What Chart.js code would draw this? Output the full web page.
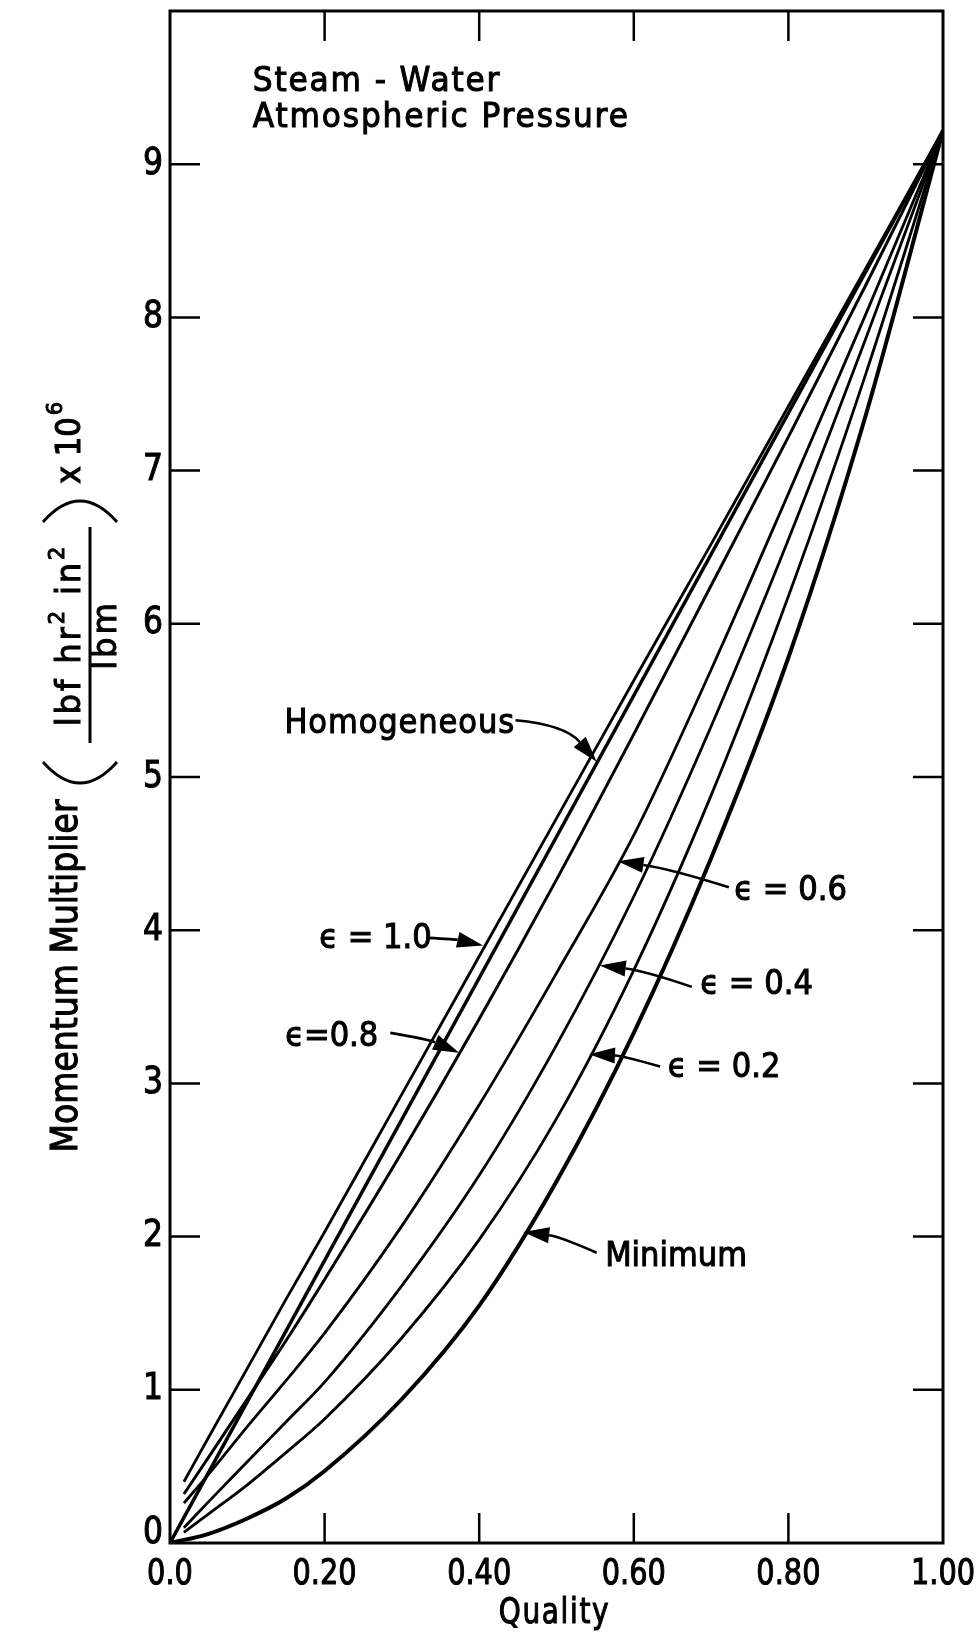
<!DOCTYPE html>
<html>
<head>
<meta charset="utf-8">
<script src="https://cdn.jsdelivr.net/npm/chart.js@4.4.1/dist/chart.umd.min.js"></script>
<style>
  html, body { margin: 0; padding: 0; background: #fff; }
  #wrap { width: 977px; height: 1637px; }
</style>
</head>
<body>
<div id="wrap"><canvas id="chart" width="977" height="1637"></canvas></div>
<script>
// values
const qualityEps = [0.018, 0.05, 0.1, 0.15, 0.2, 0.3, 0.4, 0.5, 0.6, 0.7, 0.8, 0.9, 1.0];
const eps10 = [0.40, 0.69, 1.14, 1.59, 2.03, 2.93, 3.83, 4.73, 5.63, 6.52, 7.42, 8.32, 9.22];
const eps08 = [0.32, 0.56, 0.94, 1.32, 1.72, 2.55, 3.42, 4.33, 5.28, 6.25, 7.22, 8.21, 9.22];
const eps06 = [0.26, 0.45, 0.76, 1.06, 1.37, 2.07, 2.86, 3.72, 4.62, 5.70, 6.85, 8.02, 9.22];
const eps04 = [0.10, 0.27, 0.53, 0.79, 1.05, 1.68, 2.40, 3.25, 4.22, 5.33, 6.55, 7.86, 9.22];
const eps02 = [0.07, 0.19, 0.38, 0.59, 0.81, 1.34, 1.98, 2.77, 3.74, 4.88, 6.18, 7.63, 9.22];
const qualityMin = [0, 0.05, 0.1, 0.15, 0.2, 0.3, 0.4, 0.5, 0.6, 0.7, 0.8, 0.9, 1.0];
const minimum = [0, 0.06, 0.16, 0.29, 0.47, 0.94, 1.55, 2.36, 3.33, 4.47, 5.78, 7.36, 9.22];
const qualityHom = [0, 1.0];
const homogeneous = [0.0, 9.22];

const xTickValues = [0, 0.2, 0.4, 0.6, 0.8, 1.0];
const xTickLabels = ['0.0', '0.20', '0.40', '0.60', '0.80', '1.00'];
const yTickValues = [0, 1, 2, 3, 4, 5, 6, 7, 8, 9];
const yTickLabels = ['0', '1', '2', '3', '4', '5', '6', '7', '8', '9'];

// labels with arrows, placed in data units
const notes = [
    { text: 'Homogeneous', x: 0.148, y: 5.29, from: [0.447, 5.37], ctrl: [0.511, 5.34], tip: [0.552, 5.10], spacing: 1 },
    { text: 'ϵ = 1.0', x: 0.193, y: 3.885, from: [0.333, 3.95], ctrl: [0.37, 3.94], tip: [0.405, 3.90] },
    { text: 'ϵ=0.8', x: 0.149, y: 3.245, from: [0.285, 3.33], ctrl: [0.333, 3.29], tip: [0.374, 3.20] },
    { text: 'ϵ = 0.6', x: 0.730, y: 4.20, from: [0.723, 4.28], ctrl: [0.648, 4.40], tip: [0.579, 4.45] },
    { text: 'ϵ = 0.4', x: 0.686, y: 3.585, from: [0.675, 3.63], ctrl: [0.614, 3.735], tip: [0.556, 3.77] },
    { text: 'ϵ = 0.2', x: 0.644, y: 3.04, from: [0.634, 3.11], ctrl: [0.586, 3.18], tip: [0.542, 3.19] },
    { text: 'Minimum', x: 0.563, y: 1.81, from: [0.552, 1.895], ctrl: [0.504, 2.0], tip: [0.457, 2.03] }
];

const FONT = '"DejaVu Sans", sans-serif';

function pts(xs, ys) {
    return xs.map((x, i) => ({ x: x, y: ys[i] }));
}

function line(data, width) {
    return { data: data, borderColor: '#000', borderWidth: width, pointRadius: 0, fill: false, cubicInterpolationMode: 'monotone' };
}

// condensed, slightly heavier lettering
function txt(ctx, str, x, y, o) {
    ctx.save();
    ctx.translate(x, y);
    ctx.scale(o.sx || 1, 1);
    ctx.font = o.size + 'px ' + FONT;
    ctx.letterSpacing = (o.spacing || 0) + 'px';
    ctx.textAlign = o.align || 'left';
    ctx.textBaseline = o.base || 'alphabetic';
    ctx.lineWidth = o.stroke == null ? 1.1 : o.stroke;
    ctx.fillText(str, 0, 0);
    ctx.strokeText(str, 0, 0);
    ctx.restore();
}

function tw(ctx, str, size, spacing, sx) {
    ctx.save();
    ctx.font = size + 'px ' + FONT;
    ctx.letterSpacing = (spacing || 0) + 'px';
    const w = ctx.measureText(str).width * (sx || 1);
    ctx.restore();
    return w;
}

function arrow(ctx, p0, c, p1) {
    const ang = Math.atan2(p1[1] - c[1], p1[0] - c[0]);
    const len = 26, half = 8;
    const bx = p1[0] - len * Math.cos(ang), by = p1[1] - len * Math.sin(ang);
    ctx.beginPath();
    ctx.moveTo(p0[0], p0[1]);
    ctx.quadraticCurveTo(c[0], c[1], bx, by);
    ctx.stroke();
    ctx.beginPath();
    ctx.moveTo(p1[0], p1[1]);
    ctx.lineTo(bx + half * Math.sin(ang), by - half * Math.cos(ang));
    ctx.lineTo(bx - half * Math.sin(ang), by + half * Math.cos(ang));
    ctx.closePath();
    ctx.fill();
}

const framePlugin = {
    id: 'frame',
    beforeDraw(chart) {
        const ctx = chart.ctx;
        ctx.save();
        ctx.fillStyle = '#fff';
        ctx.fillRect(0, 0, chart.width, chart.height);
        ctx.restore();
    },
    afterDatasetsDraw(chart) {
        const ctx = chart.ctx;
        const a = chart.chartArea;
        const xs = chart.scales.x, ys = chart.scales.y;
        const px = v => xs.getPixelForValue(v);
        const py = v => ys.getPixelForValue(v);
        ctx.save();
        ctx.strokeStyle = '#000';
        ctx.fillStyle = '#000';

        // box
        ctx.lineWidth = 3;
        ctx.strokeRect(a.left, a.top, a.right - a.left, a.bottom - a.top);

        // inward ticks on all four sides
        ctx.lineWidth = 2.5;
        const tl = 30;
        ctx.beginPath();
        xTickValues.slice(1, -1).forEach(v => {
            ctx.moveTo(px(v), a.bottom); ctx.lineTo(px(v), a.bottom - tl);
            ctx.moveTo(px(v), a.top); ctx.lineTo(px(v), a.top + tl);
        });
        yTickValues.slice(1).forEach(v => {
            ctx.moveTo(a.left, py(v)); ctx.lineTo(a.left + tl, py(v));
            ctx.moveTo(a.right, py(v)); ctx.lineTo(a.right - tl, py(v));
        });
        ctx.stroke();

        // tick labels
        xTickValues.forEach((v, i) => txt(ctx, xTickLabels[i], px(v), a.bottom + 41, { size: 36, sx: 0.8, align: 'center' }));
        yTickValues.forEach((v, i) => txt(ctx, yTickLabels[i], a.left - 7, py(v) - (v === 0 ? 10 : 0),
            { size: 37, sx: 0.85, align: 'right', base: 'middle' }));

        // x title
        txt(ctx, 'Quality', (a.left + a.right) / 2 - 2, 1623, { size: 35, sx: 0.8, align: 'center', spacing: 2 });

        // y title, rotated: (-Y, X) puts text at screen row Y with baseline at screen column X
        ctx.save();
        ctx.rotate(-Math.PI / 2);
        txt(ctx, 'Momentum Multiplier', -976, 77, { size: 38, sx: 0.87, align: 'center' });
        const parts = [['lbf hr', 0], ['2', 1], [' in', 0], ['2', 1]];
        const nsx = 0.95;
        let total = 0;
        parts.forEach(p => { total += tw(ctx, p[0], p[1] ? 22 : 34, 3, nsx); });
        let u = -635 - total / 2;
        parts.forEach(p => {
            txt(ctx, p[0], u, p[1] ? 64 : 80, { size: p[1] ? 22 : 34, sx: nsx, spacing: 3 });
            u += tw(ctx, p[0], p[1] ? 22 : 34, 3, nsx);
        });
        txt(ctx, 'lbm', -635, 116, { size: 34, sx: 0.95, align: 'center', spacing: 3 });
        txt(ctx, 'x 10', -484, 80, { size: 34, sx: 0.9 });
        txt(ctx, '6', -484 + tw(ctx, 'x 10', 34, 0, 0.9) + 2, 62, { size: 22, sx: 0.95 });
        ctx.restore();

        // fraction bar and parentheses
        ctx.lineWidth = 3;
        ctx.beginPath();
        ctx.moveTo(90, 527); ctx.lineTo(90, 743);
        ctx.stroke();
        ctx.lineWidth = 2.8;
        ctx.beginPath();
        ctx.moveTo(43, 762); ctx.quadraticCurveTo(80, 804, 117, 762);
        ctx.moveTo(43, 522); ctx.quadraticCurveTo(80, 480, 117, 522);
        ctx.stroke();

        // header text
        txt(ctx, 'Steam - Water', px(0.107), py(9.475), { size: 34, sx: 0.92, spacing: 2 });
        txt(ctx, 'Atmospheric Pressure', px(0.107), py(9.243), { size: 34, sx: 0.92, spacing: 2 });

        // curve labels with arrows
        notes.forEach(n => {
            txt(ctx, n.text, px(n.x), py(n.y), { size: 34, sx: 0.9, spacing: n.spacing || 0 });
            ctx.lineWidth = 2.6;
            arrow(ctx, [px(n.from[0]), py(n.from[1])], [px(n.ctrl[0]), py(n.ctrl[1])], [px(n.tip[0]), py(n.tip[1])]);
        });
        ctx.restore();
    }
};

new Chart(document.getElementById('chart'), {
    type: 'line',
    data: {
        datasets: [
            line(pts(qualityHom, homogeneous), 3.5),
            line(pts(qualityEps, eps10), 2.8),
            line(pts(qualityEps, eps08), 3),
            line(pts(qualityEps, eps06), 2.8),
            line(pts(qualityEps, eps04), 2.8),
            line(pts(qualityEps, eps02), 2.8),
            line(pts(qualityMin, minimum), 4)
        ]
    },
    options: {
        responsive: false,
        animation: false,
        layout: { padding: { left: 0, right: 34, top: 11, bottom: 0 } },
        plugins: { legend: { display: false }, tooltip: { enabled: false } },
        scales: {
            x: {
                type: 'linear', min: 0, max: 1.0,
                ticks: { display: false, stepSize: 0.2 },
                grid: { display: false }, border: { display: false },
                afterFit: s => { s.height = 94; }
            },
            y: {
                type: 'linear', min: 0, max: 10,
                ticks: { display: false, stepSize: 1 },
                grid: { display: false }, border: { display: false },
                afterFit: s => { s.width = 170; }
            }
        }
    },
    plugins: [framePlugin]
});
</script>
</body>
</html>
